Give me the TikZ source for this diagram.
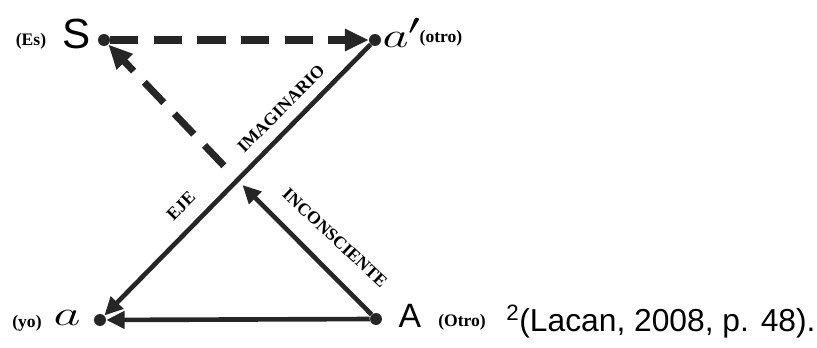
\documentclass[tikz,border=0pt]{standalone}
\usepackage{fontspec}
\usepackage{graphicx}
\setmainfont{Liberation Serif}
\newfontfamily\citefont{Liberation Sans}
\usetikzlibrary{arrows.meta,calc}

\begin{document}
\begin{tikzpicture}[x=0.025cm,y=-0.025cm,
    dot/.style={circle,fill=black!85,inner sep=0pt,minimum size=8.5pt},
    solidline/.style={black!85,line width=3.3pt,-{Triangle[length=13pt,width=12pt]}},
    dashline/.style={black!85,line width=5pt,dash pattern=on 20pt off 11pt,-{Triangle[length=17pt,width=15pt]}},
    small/.style={font=\fontsize{12.5}{12.5}\selectfont\bfseries,inner sep=0pt},
    axis/.style={font=\fontsize{12.5}{12.5}\selectfont\bfseries,inner sep=0pt}]
  \path[use as bounding box] (0,0) rectangle (817,348);
  % the four places
  \node[dot] (S) at (104,40) {};
  \node[dot] (aprime) at (375,40) {};
  \node[dot] (a) at (100,320) {};
  \node[dot] (A) at (376,319) {};
  \coordinate (X) at ($(aprime)!0.5!(a)$);
  % their letters
  \node[font=\citefont\fontsize{30}{30}\selectfont,inner sep=0pt] (Slbl) at (77,34) {S};
  \node[small] (Es) at (31,41) {(Es)};
  \node[inner sep=0pt] (aplbl) at (402,33) {\scalebox{1.45}[1]{\fontsize{28}{28}\selectfont$a'$}};
  \node[small] (otro) at (441,38) {(otro)};
  \node[inner sep=0pt] (albl) at (67,318) {\scalebox{1.5}[1]{\fontsize{28}{28}\selectfont$a$}};
  \node[small] (yo) at (27,323) {(yo)};
  \node[font=\citefont\fontsize{24}{24}\selectfont,inner sep=0pt] (Albl) at (410,316) {A};
  \node[small] (Otro) at (462,322) {(Otro)};
  % the arrows
  \draw[dashline] (S) -- (aprime);
  \draw[dashline,shorten <=14pt] (X) -- (S);
  \draw[solidline] (aprime) -- (a);
  \draw[solidline,shorten >=5pt] (A) -- (X);
  \draw[solidline] (A) -- (a);
  % axis labels
  \node[axis,rotate=45] (imag) at (281,109) {IMAGINARIO};
  \node[axis,rotate=45] (eje) at (181,206) {EJE};
  \node[axis,rotate=-43] (incons) at (335,238) {INCONSCIENTE};
  % source
  \node[font=\citefont\fontsize{22.6}{22.6}\selectfont,inner sep=0pt,anchor=base west] (cite) at (506,331) {\textsuperscript{2}(Lacan, 2008, p. 48).};
\end{tikzpicture}
\end{document}
